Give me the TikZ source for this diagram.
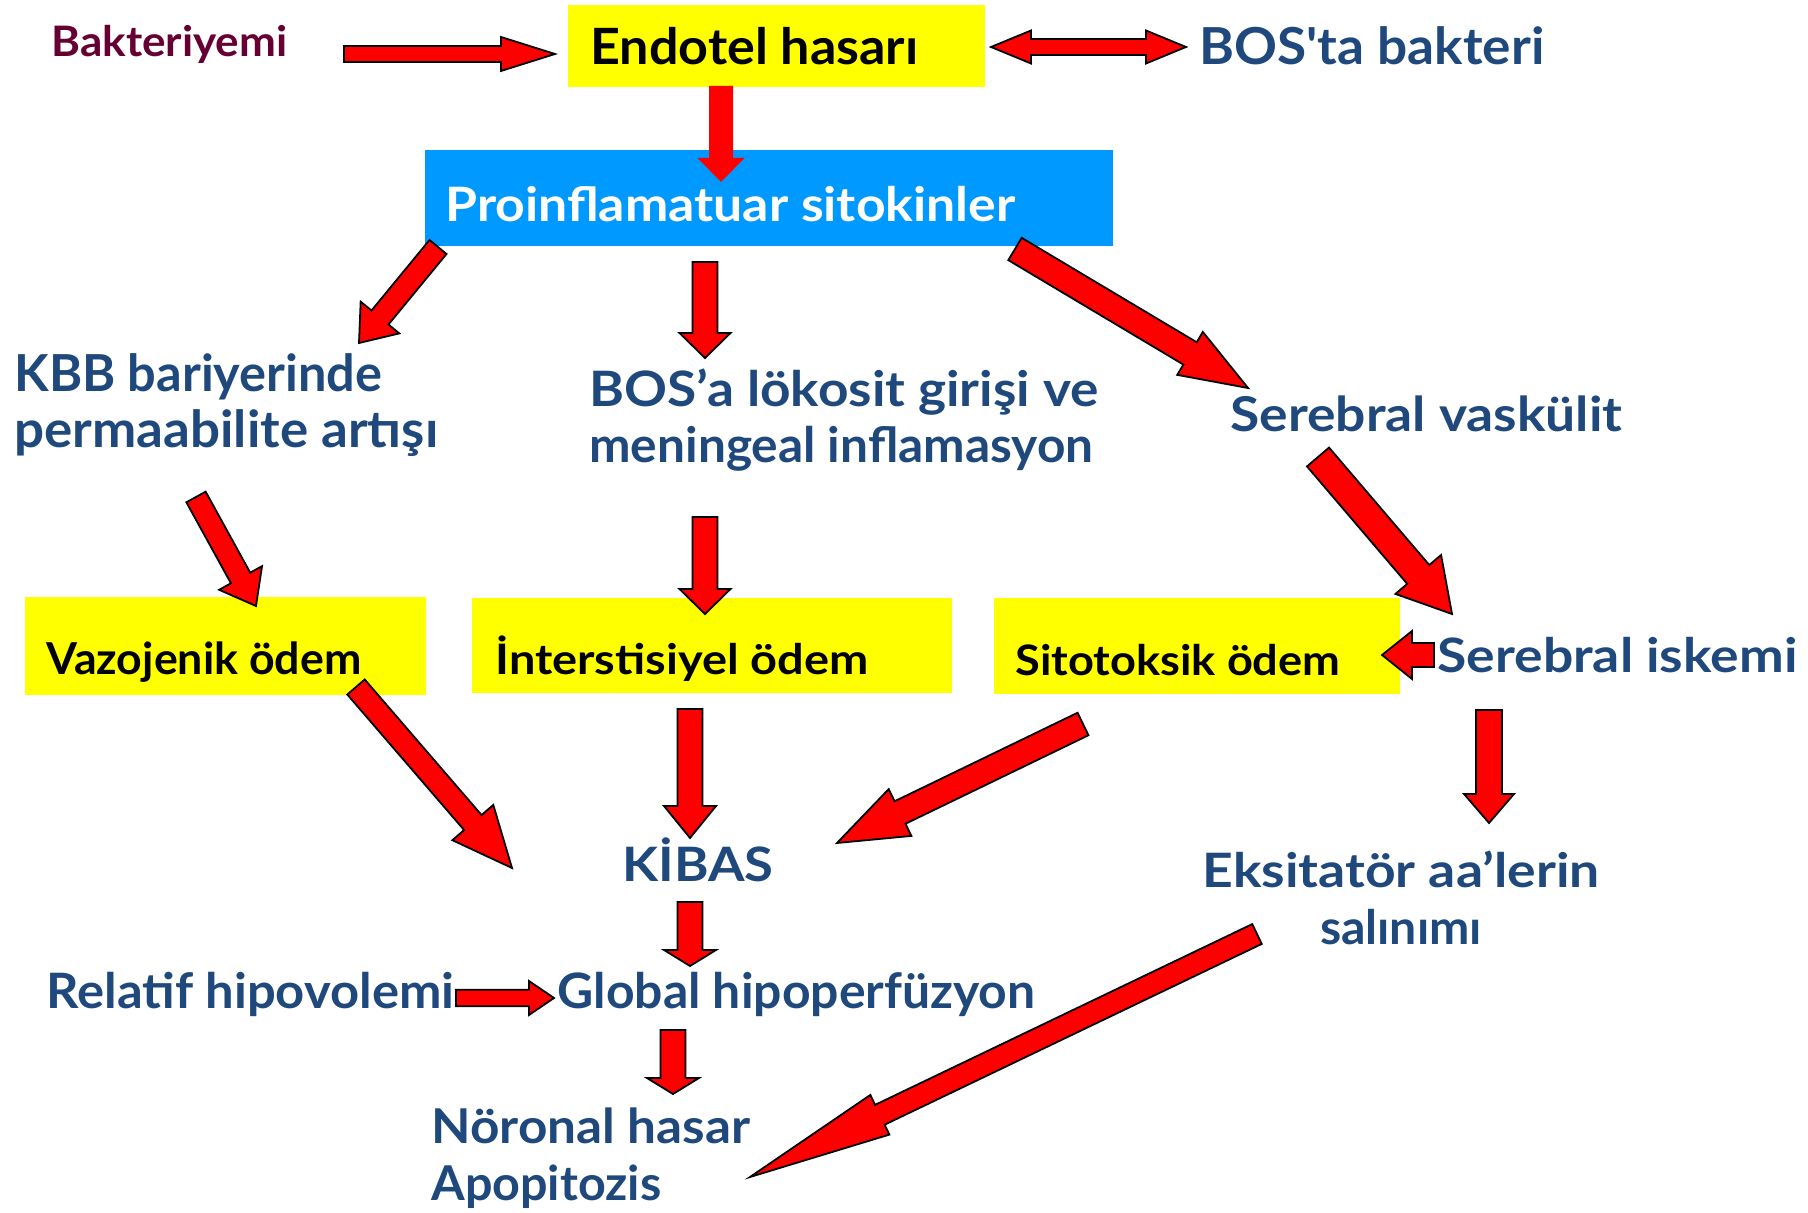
\documentclass[tikz,border=0pt]{standalone}
\usepackage{fontspec}
\setmainfont{Lato}
\usepackage{graphicx}
\usetikzlibrary{calc}
\definecolor{tblue}{RGB}{31,73,125}
\definecolor{tmaroon}{RGB}{102,0,51}
\definecolor{boxblue}{RGB}{0,153,255}
\definecolor{boxyellow}{RGB}{255,255,0}
\newcommand\FitW[2]{\resizebox{#1}{\height}{#2}}
\newcommand\FS[1]{\fontsize{#1pt}{28.3pt}\selectfont\bfseries}
% block arrow: [style]{from}{to}{shaft half width}{head half width}{head length}
\newcommand\BArrow[6][]{%
  \path[barrow,#1] ($(#2)!#4!90:(#3)$)
    -- ($($(#3)!#6!(#2)$)!#4!90:(#3)$)
    -- ($($(#3)!#6!(#2)$)!#5!90:(#3)$)
    -- (#3)
    -- ($($(#3)!#6!(#2)$)!#5!-90:(#3)$)
    -- ($($(#3)!#6!(#2)$)!#4!-90:(#3)$)
    -- ($(#2)!#4!-90:(#3)$) -- cycle;}
% double block arrow
\newcommand\DArrow[6][]{%
  \path[barrow,#1] (#2)
    -- ($($(#2)!#6!(#3)$)!#5!90:(#3)$)
    -- ($($(#2)!#6!(#3)$)!#4!90:(#3)$)
    -- ($($(#3)!#6!(#2)$)!#4!90:(#3)$)
    -- ($($(#3)!#6!(#2)$)!#5!90:(#3)$)
    -- (#3)
    -- ($($(#3)!#6!(#2)$)!#5!-90:(#3)$)
    -- ($($(#3)!#6!(#2)$)!#4!-90:(#3)$)
    -- ($($(#2)!#6!(#3)$)!#4!-90:(#3)$)
    -- ($($(#2)!#6!(#3)$)!#5!-90:(#3)$) -- cycle;}
\begin{document}
\begin{tikzpicture}[x=0.5pt,y=-0.5pt,
  barrow/.style={fill=red,draw=black,line width=0.9pt,line join=miter},
  ybox/.style={fill=boxyellow,draw=none,anchor=north west,inner sep=0pt},
  bbox/.style={fill=boxblue,draw=none,anchor=north west,inner sep=0pt},
  txt/.style={inner sep=0pt,anchor=base west,text=tblue},
  btxt/.style={inner sep=0pt,anchor=base west,text=black}]
\useasboundingbox[fill=white] (0,0) rectangle (1808,1213);

% boxes
\node[ybox,minimum width=208.5pt,minimum height=41pt] (endotel) at (568,5) {};
\node[bbox,minimum width=344pt,minimum height=48pt] (proinfl) at (425,150) {};
\node[ybox,minimum width=200.5pt,minimum height=49pt] (vazo) at (25,597) {};
\node[ybox,minimum width=240pt,minimum height=47.5pt] (inter) at (472,598) {};
\node[ybox,minimum width=203pt,minimum height=48pt] (sito) at (994,598) {};

% texts (multi-line nodes are placed at the baseline of their last line)
\node[txt,text=tmaroon,font=\FS{21}] (bakt) at (51,57) {\FitW{118pt}{Bakteriyemi}};
\node[btxt,font=\FS{25}] (endoteltxt) at (590,65) {\FitW{164pt}{Endotel hasarı}};
\node[txt,font=\FS{25.5}] (bosta) at (1199,65) {\FitW{172.5pt}{BOS\textquotesingle ta bakteri}};
\node[txt,text=white,font=\FS{23.7}] (proinfltxt) at (445,222) {\FitW{285pt}{Proinflamatuar sitokinler}};
\node[txt,align=left,font=\FS{25.5}] (kbb) at (14,448) {\FitW{184pt}{KBB bariyerinde}\\\FitW{212pt}{permaabilite artışı}};
\node[txt,align=left,font=\FS{24.4}] (bosa) at (589,463) {\FitW{254.5pt}{BOS’a lökosit girişi ve}\\\FitW{252pt}{meningeal inflamasyon}};
\node[txt,font=\FS{24}] (servask) at (1230,432) {\FitW{196pt}{Serebral vaskülit}};
\node[txt,font=\FS{23.7}] (serisk) at (1437,672) {\FitW{180pt}{Serebral iskemi}};
\node[btxt,font=\FS{22}] (vazotxt) at (46,674) {\FitW{157.5pt}{Vazojenik ödem}};
\node[btxt,font=\FS{21}] (intertxt) at (495,674) {\FitW{186.5pt}{İnterstisiyel ödem}};
\node[btxt,font=\FS{21}] (sitotxt) at (1015,675) {\FitW{162.5pt}{Sitotoksik ödem}};
\node[txt,font=\FS{23.7}] (kibas) at (622,881) {\FitW{75.5pt}{KİBAS}};
\node[txt,anchor=base,align=center,font=\FS{23.7}] (eksit) at (1401,944) {\FitW{198.5pt}{Eksitatör aa’lerin}\\\FitW{81pt}{salınımı}};
\node[txt,font=\FS{24.4}] (relatif) at (46,1008) {\FitW{204pt}{Relatif hipovolemi}};
\node[txt,font=\FS{24.4}] (global) at (557,1008) {\FitW{239pt}{Global hipoperfüzyon}};
\node[txt,align=left,font=\FS{24}] (noronal) at (431,1200) {\FitW{159.5pt}{Nöronal hasar}\\\FitW{115pt}{Apopitozis}};

% arrow end points
\coordinate (a1s) at (344,54);   \coordinate (a1e) at (555,54);
\coordinate (a2s) at (991,47);   \coordinate (a2e) at (1186,47);
\coordinate (a3s) at (721,86);   \coordinate (a3e) at (721,182);
\coordinate (a4s) at (438,247);  \coordinate (a4e) at (359,343);
\coordinate (a5s) at (705,262);  \coordinate (a5e) at (705,358);
\coordinate (a6s) at (1015,249); \coordinate (a6e) at (1248,388);
\coordinate (a7s) at (705,517);  \coordinate (a7e) at (705,614);
\coordinate (a8s) at (196,497);  \coordinate (a8e) at (256,606);
\coordinate (a9s) at (356,687);  \coordinate (a9e) at (512,868);
\coordinate (a10s) at (690,709); \coordinate (a10e) at (690,838);
\coordinate (a11s) at (1083,724);\coordinate (a11e) at (837,843);
\coordinate (a12s) at (1318,457);\coordinate (a12e) at (1452,614);
\coordinate (a13s) at (1434,655);\coordinate (a13e) at (1382,655);
\coordinate (a14s) at (1489,710);\coordinate (a14e) at (1489,823);
\coordinate (a15s) at (690,902); \coordinate (a15e) at (690,966);
\coordinate (a16s) at (456,998); \coordinate (a16e) at (554,998);
\coordinate (a17s) at (673,1030);\coordinate (a17e) at (673,1094);
\coordinate (a18s) at (1257,934);\coordinate (a18e) at (750,1177);

% arrows
\BArrow{a1s}{a1e}{4pt}{8.5pt}{27pt}
\DArrow{a2s}{a2e}{4pt}{8.25pt}{20pt}
\BArrow[draw=none]{a3s}{a3e}{6pt}{11.75pt}{12pt}
\BArrow{a4s}{a4e}{5.5pt}{12.5pt}{16.5pt}
\BArrow{a5s}{a5e}{6.25pt}{12.75pt}{12.5pt}
\BArrow{a6s}{a6e}{6.5pt}{12.5pt}{33.75pt}
\BArrow{a7s}{a7e}{6.25pt}{12.75pt}{12.5pt}
\BArrow{a8s}{a8e}{5.5pt}{12.25pt}{16pt}
\BArrow{a9s}{a9e}{5.75pt}{13.5pt}{30pt}
\BArrow{a10s}{a10e}{6.25pt}{13pt}{16pt}
\BArrow{a11s}{a11e}{6.25pt}{13pt}{35pt}
\BArrow{a12s}{a12e}{7.25pt}{15pt}{26pt}
\BArrow{a13s}{a13e}{6pt}{12pt}{15pt}
\BArrow{a14s}{a14e}{6.5pt}{12.5pt}{14.5pt}
\BArrow{a15s}{a15e}{6.25pt}{13pt}{8pt}
\BArrow{a16s}{a16e}{4.1pt}{8.5pt}{12.5pt}
\BArrow{a17s}{a17e}{6.25pt}{13pt}{8pt}
\BArrow{a18s}{a18e}{5.5pt}{11pt}{72pt}
\end{tikzpicture}
\end{document}
